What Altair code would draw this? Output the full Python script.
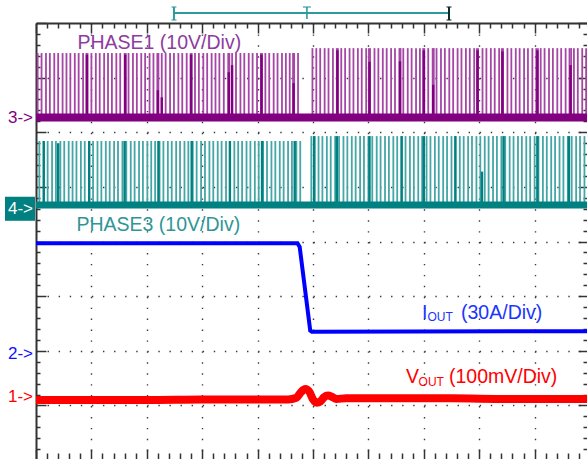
import altair as alt
import pandas as pd

# ---------------- data (x in horizontal divisions, v in vertical divisions from bottom) -------------
X_MAX = 9.946
Y_MIN, Y_MAX = 0.02, 8.0
T_STEP = 4.85  # load-step instant

# PHASE1 switching node
phase1_base = 6.27
phase1_top_before, phase1_top_after = 7.45, 7.54
phase1_t = [
    0.03, 0.10, 0.18, 0.25, 0.33, 0.40, 0.48, 0.55, 0.62, 0.70, 0.77, 0.85, 0.91, 0.93,
    1.00, 1.08, 1.15, 1.23, 1.30, 1.37, 1.45, 1.52, 1.60, 1.62, 1.67, 1.75, 1.82, 1.90, 1.97,
    2.05, 2.12, 2.19, 2.21, 2.27, 2.34, 2.42, 2.49, 2.57, 2.64, 2.72, 2.79, 2.81, 2.87, 2.94,
    3.02, 3.09, 3.17, 3.24, 3.31, 3.39, 3.47, 3.49, 3.54, 3.61, 3.69, 3.76, 3.84, 3.91, 3.99,
    4.06, 4.08, 4.14, 4.21, 4.29, 4.36, 4.44, 4.51, 4.58, 4.64, 4.66, 4.73,
    4.99, 5.06, 5.13, 5.21, 5.28, 5.36, 5.43, 5.45, 5.51, 5.58, 5.66, 5.73, 5.81, 5.88, 5.96,
    6.01, 6.03, 6.11, 6.18, 6.26, 6.33, 6.41, 6.48, 6.56, 6.58, 6.63, 6.71, 6.78, 6.86, 6.93,
    6.99, 7.01, 7.08, 7.16, 7.18, 7.23, 7.31, 7.38, 7.46, 7.53, 7.61, 7.68, 7.76, 7.83, 7.91, 7.96, 7.98,
    8.06, 8.13, 8.21, 8.28, 8.36, 8.41, 8.43, 8.51, 8.58, 8.66, 8.73, 8.81, 8.88, 8.96,
    9.03, 9.06, 9.11, 9.18, 9.26, 9.33, 9.41, 9.48, 9.56, 9.63, 9.66, 9.71, 9.78, 9.86, 9.93,
]
phase1_dark_t = [0.92, 1.61, 2.20, 2.27, 2.80, 3.48, 3.54, 4.07, 4.65, 5.44, 6.02,
                 6.57, 7.00, 7.17, 7.97, 8.42, 9.05, 9.65]
phase1_dark_top = [7.42, 7.42, 6.77, 6.64, 7.42, 7.10, 7.23, 7.42, 6.90, 7.50, 7.29,
                   7.30, 7.50, 6.87, 7.50, 7.48, 7.50, 7.23]

# PHASE3 switching node
phase3_base = 4.67
phase3_top_before, phase3_top_after = 5.84, 5.93
phase3_t = [
    0.06, 0.14, 0.21, 0.29, 0.36, 0.44, 0.51, 0.59, 0.66, 0.73, 0.81, 0.88, 0.96,
    1.03, 1.11, 1.18, 1.26, 1.33, 1.41, 1.48, 1.56, 1.63, 1.71, 1.78, 1.86, 1.93,
    2.01, 2.08, 2.15, 2.23, 2.30, 2.38, 2.45, 2.53, 2.60, 2.68, 2.75, 2.83, 2.90, 2.98,
    3.05, 3.13, 3.20, 3.28, 3.35, 3.43, 3.50, 3.58, 3.65, 3.72, 3.80, 3.87, 3.95,
    4.02, 4.10, 4.17, 4.25, 4.32, 4.40, 4.47, 4.55, 4.62, 4.70, 4.77,
    4.97, 5.03, 5.10, 5.17, 5.25, 5.32, 5.40, 5.47, 5.55, 5.62, 5.70, 5.77, 5.85, 5.92,
    6.00, 6.07, 6.15, 6.22, 6.30, 6.37, 6.45, 6.52, 6.60, 6.67, 6.75, 6.82, 6.90, 6.97,
    7.05, 7.12, 7.20, 7.27, 7.35, 7.42, 7.50, 7.57, 7.65, 7.72, 7.80, 7.87, 7.95,
    8.02, 8.10, 8.17, 8.25, 8.32, 8.40, 8.47, 8.55, 8.62, 8.70, 8.77, 8.85, 8.92,
    9.00, 9.07, 9.15, 9.22, 9.30, 9.37, 9.45, 9.52, 9.60, 9.67, 9.75, 9.82, 9.90,
]
phase3_dark_t = [0.14, 0.40, 0.96, 1.60, 2.21, 2.81, 3.50, 4.08, 4.67, 5.02, 5.43,
                 6.02, 6.60, 7.00, 7.57, 8.05, 8.44, 9.05, 9.62]
phase3_dark_top = [5.84, 5.80, 5.84, 5.84, 5.84, 5.84, 5.84, 5.84, 5.84, 5.93, 5.93,
                   5.93, 5.93, 5.93, 5.93, 5.28, 5.93, 5.93, 5.93]

# IOUT (ch2)
iout_t = [0.0, 4.72, 4.76, 4.95, 4.98, X_MAX]
iout_v = [3.97, 3.97, 3.90, 2.37, 2.35, 2.36]

# VOUT (ch1)
vout_t = [0.0, 1.0, 2.0, 3.0, 4.0, 4.55, 4.70, 4.78, 4.86, 4.94, 5.00, 5.07,
          5.13, 5.20, 5.27, 5.34, 5.42, 5.60, 6.5, 7.5, 8.5, X_MAX]
vout_v = [1.10, 1.10, 1.10, 1.11, 1.11, 1.11, 1.14, 1.24, 1.30, 1.24, 1.11, 1.05,
          1.07, 1.15, 1.18, 1.16, 1.12, 1.13, 1.13, 1.13, 1.12, 1.12]

# channel markers on the left
marker_text = ["3->", "4->", "2->", "1->"]
marker_level = [6.26, 4.60, 1.94, 1.15]
marker_color = ["#800080", "#ffffff", "#1010ff", "#ff0000"]

# trigger/record indicator at the top
record_start, record_end, trigger_t = 2.49, 7.455, 4.89

FONT = "Liberation Sans"
PURPLE, PURPLE_L, PURPLE_TXT = "#800080", "#a545a5", "#8e3c9e"
TEAL, TEAL_L, TEAL_TXT = "#008080", "#45a6a6", "#2f9696"
BLUE, BLUE_TXT = "#0000ff", "#1a35ff"
RED = "#ff0000"

xs = alt.Scale(domain=[0, X_MAX], nice=False, zero=False)
ys = alt.Scale(domain=[Y_MIN, Y_MAX], nice=False, zero=False)


def X(field="t", axis=None):
    return alt.X(f"{field}:Q", scale=xs, axis=axis)


def Y(field="v", axis=None):
    return alt.Y(f"{field}:Q", scale=ys, axis=axis)


def pulses(times, base, top_before, top_after):
    tops = [top_before if t < T_STEP else top_after for t in times]
    return pd.DataFrame({"t": times, "v": [base] * len(times), "v2": tops})


def dark(times, base, tops):
    return pd.DataFrame({"t": times, "v": [base] * len(times), "v2": tops})


def band(base):
    return pd.DataFrame({"t": [0.0], "t2": [X_MAX], "v": [base]})


anchor = pd.DataFrame({"t": [0.0], "v": [1.0]})
major = "abs(datum.value - round(datum.value)) < 0.001"

# ----- axes / graticule -----
grid_x = alt.Chart(anchor).mark_point(opacity=0).encode(
    x=X(axis=alt.Axis(orient="bottom", values=[1, 2, 3, 4, 5, 6, 7, 8, 9], labels=False, ticks=False,
                      domain=False, grid=True, gridColor="#3a3a3a", gridWidth=1.4,
                      gridDash=[1.4, 9.53], title=None)),
    y=Y())
grid_y = alt.Chart(anchor).mark_point(opacity=0).encode(
    x=X(),
    y=Y(axis=alt.Axis(orient="left", values=[1, 2, 3, 4, 5, 6, 7], labels=False, ticks=False,
                      domain=False, grid=True, gridColor="#3a3a3a", gridWidth=1.4,
                      gridDash=[1.4, 9.68], title=None)))
top_ticks = alt.Chart(anchor).mark_point(opacity=0).encode(
    x=X(axis=alt.Axis(orient="bottom", offset=-436, tickCount=50, labels=False, grid=False,
                      domain=True, domainColor="#333333", domainWidth=2,
                      tickColor="#333333", tickWidth=1.5,
                      tickSize={"condition": {"test": major, "value": 10}, "value": 5},
                      title=None)),
    y=Y())
bottom_ticks = alt.Chart(anchor).mark_point(opacity=0).encode(
    x=X(axis=alt.Axis(orient="top", offset=-436, tickCount=50, labels=False, grid=False,
                      domain=False, tickColor="#333333", tickWidth=1.5,
                      tickSize={"condition": {"test": major, "value": 10}, "value": 6},
                      title=None)),
    y=Y())
left_ticks = alt.Chart(anchor).mark_point(opacity=0).encode(
    x=X(),
    y=Y(axis=alt.Axis(orient="right", offset=-551, tickCount=40, labels=False, grid=False,
                      domain=True, domainColor="#333333", domainWidth=2,
                      tickColor="#333333", tickWidth=1.5,
                      tickSize={"condition": {"test": major, "value": 10}, "value": 4},
                      title=None)))
right_ticks = alt.Chart(anchor).mark_point(opacity=0).encode(
    x=X(),
    y=Y(axis=alt.Axis(orient="left", offset=-551, tickCount=40, labels=False, grid=False,
                      domain=False, tickColor="#333333", tickWidth=1.5,
                      tickSize={"condition": {"test": major, "value": 9}, "value": 4},
                      title=None)))

# ----- traces -----
def trace_band(base, color, width):
    return alt.Chart(band(base)).mark_rule(color=color, strokeWidth=width).encode(
        x=X(), x2="t2:Q", y=Y())


def pulse_layer(df, color, width):
    return alt.Chart(df).mark_rule(color=color, strokeWidth=width).encode(
        x=X(), y=Y(), y2="v2:Q")


p1_light = pulse_layer(pulses(phase1_t, phase1_base, phase1_top_before, phase1_top_after), PURPLE_L, 1.8)
p1_dark = pulse_layer(dark(phase1_dark_t, phase1_base, phase1_dark_top), PURPLE, 2.4)
p1_band = trace_band(phase1_base, PURPLE, 8)

p3_light = pulse_layer(pulses(phase3_t, phase3_base, phase3_top_before, phase3_top_after), TEAL_L, 1.8)
p3_dark = pulse_layer(dark(phase3_dark_t, phase3_base, phase3_dark_top), TEAL, 2.4)
p3_band = trace_band(phase3_base, TEAL, 7)

iout = alt.Chart(pd.DataFrame({"t": iout_t, "v": iout_v})).mark_line(
    color=BLUE, strokeWidth=4, strokeJoin="miter").encode(x=X(), y=Y())
vout = alt.Chart(pd.DataFrame({"t": vout_t, "v": vout_v})).mark_line(
    color=RED, strokeWidth=8, interpolate="monotone").encode(x=X(), y=Y())

# ----- labels -----
def label(text, t, v, color, size=19.5, dx=0, dy=0):
    return alt.Chart(pd.DataFrame({"t": [t], "v": [v], "s": [text]})).mark_text(
        font=FONT, fontSize=size, color=color, align="left", baseline="alphabetic",
        dx=dx, dy=dy).encode(x=X(), y=Y(), text="s:N")


lab_p1 = label("PHASE1 (10V/Div)", 0.749, 7.515, PURPLE_TXT)
lab_p3 = label("PHASE3 (10V/Div)", 0.731, 4.193, TEAL_TXT)
lab_i1 = label("I", 6.968, 2.583, BLUE_TXT)
lab_i2 = label("OUT", 6.968, 2.583, BLUE_TXT, size=12, dx=5.5, dy=2)
lab_i3 = label("(30A/Div)", 6.968, 2.583, BLUE_TXT, dx=39)
lab_v1 = label("V", 6.679, 1.411, RED)
lab_v2 = label("OUT", 6.679, 1.411, RED, size=12, dx=12.6, dy=3)
lab_v3 = label("(100mV/Div)", 6.679, 1.411, RED, dx=43)

markers_df = pd.DataFrame({"s": marker_text, "v": marker_level, "c": marker_color})
marker_box = alt.Chart(markers_df[markers_df["s"] == "4->"]).transform_calculate(
    vt="datum.v + 0.22", vb="datum.v - 0.22").mark_rect(color=TEAL).encode(
    x=alt.value(-31), x2=alt.value(-1), y=Y("vt"), y2="vb:Q")
markers = alt.Chart(markers_df).mark_text(
    font=FONT, fontSize=17, align="right", baseline="middle", dx=0).encode(
    x=alt.value(-3), y=Y(), text="s:N", color=alt.Color("c:N", scale=None))

# ----- record / trigger indicator -----
rec_df = pd.DataFrame({"t": [record_start], "t2": [record_end]})
rec_line = alt.Chart(rec_df).mark_rule(color="#2f9a9a", strokeWidth=2).encode(
    x=X(), x2="t2:Q", y=alt.value(-10))
brk_df = pd.DataFrame({"t": [record_start, record_end], "c": ["#2f9a9a", "#0b2b2b"],
                       "o": [2.5, -2.5]})
brk_v = alt.Chart(brk_df).mark_rule(strokeWidth=2).encode(
    x=X(), y=alt.value(-16), y2=alt.value(-3), color=alt.Color("c:N", scale=None))
brk_top = alt.Chart(brk_df).mark_tick(orient="horizontal", size=5, thickness=1.5).encode(
    x=X(), y=alt.value(-16), color=alt.Color("c:N", scale=None), xOffset=alt.XOffset("o:Q", scale=None))
brk_bot = alt.Chart(brk_df).mark_tick(orient="horizontal", size=5, thickness=1.5).encode(
    x=X(), y=alt.value(-3), color=alt.Color("c:N", scale=None), xOffset=alt.XOffset("o:Q", scale=None))
trig_df = pd.DataFrame({"t": [trigger_t]})
trig_stem = alt.Chart(trig_df).mark_rule(color="#2f9a9a", strokeWidth=1.6).encode(
    x=X(), y=alt.value(-16), y2=alt.value(-4))
trig_bar = alt.Chart(trig_df).mark_tick(orient="horizontal", size=8, thickness=1.6,
                                        color="#2f9a9a").encode(x=X(), y=alt.value(-16))

chart = alt.layer(
    grid_x, grid_y, top_ticks, bottom_ticks, left_ticks, right_ticks,
    p1_light, p1_dark, p1_band,
    p3_light, p3_dark, p3_band,
    iout, vout,
    lab_p1, lab_p3, lab_i1, lab_i2, lab_i3, lab_v1, lab_v2, lab_v3,
    marker_box, markers,
    rec_line, brk_v, brk_top, brk_bot, trig_stem, trig_bar,
).resolve_axis(x="independent", y="independent").properties(
    width=551, height=436,
    padding={"left": 36, "top": 23, "right": 0, "bottom": 0},
    autosize=alt.AutoSizeParams(type="none"),
    background="white",
).configure_view(stroke=None)

chart.save("out.html", embed_options={"renderer": "svg", "actions": False})
